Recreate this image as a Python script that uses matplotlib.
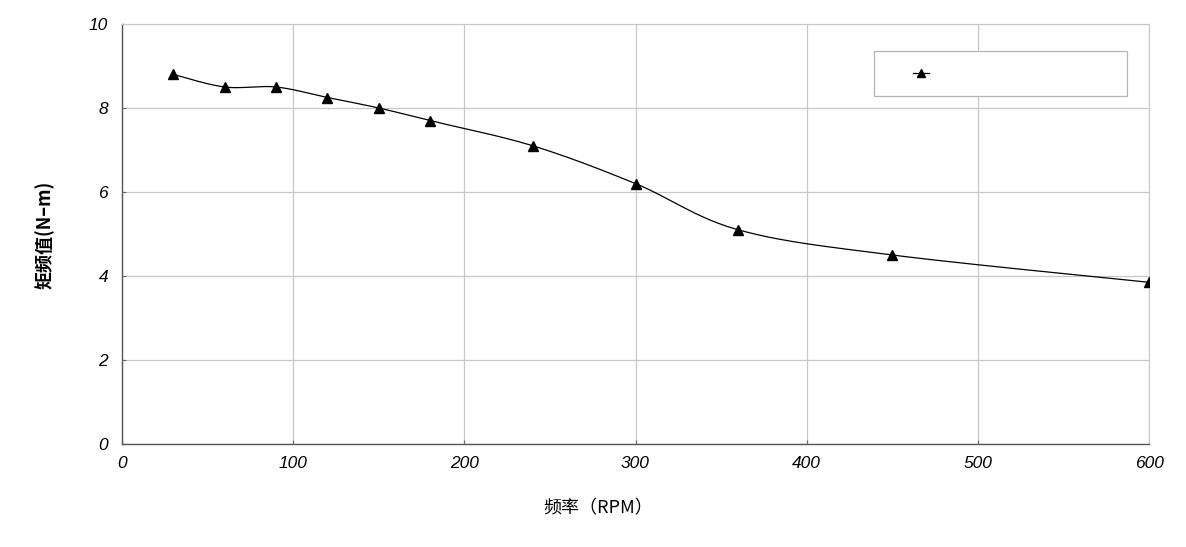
import numpy as np
import matplotlib
matplotlib.use("Agg")
import matplotlib.pyplot as plt
from matplotlib.patches import Rectangle
from matplotlib.lines import Line2D

# data
rpm = [30, 60, 90, 120, 150, 180, 240, 300, 360, 450, 600]
torque = [8.8, 8.5, 8.5, 8.25, 8.0, 7.7, 7.1, 6.2, 5.1, 4.5, 3.85]
x_ticks = [0, 100, 200, 300, 400, 500, 600]
y_ticks = [0, 2, 4, 6, 8, 10]
x_label = "频率（RPM）"
y_label = "矩频值(N–m)"


def smooth_curve(xs, ys, steps=30):
    # Excel-like smoothed line: cubic Bezier with Catmull-Rom control points
    xs = np.asarray(xs, float)
    ys = np.asarray(ys, float)
    n = len(xs)
    out_x, out_y = [], []
    t = np.linspace(0, 1, steps)
    for i in range(n - 1):
        p0 = np.array([xs[max(i - 1, 0)], ys[max(i - 1, 0)]])
        p1 = np.array([xs[i], ys[i]])
        p2 = np.array([xs[i + 1], ys[i + 1]])
        p3 = np.array([xs[min(i + 2, n - 1)], ys[min(i + 2, n - 1)]])
        c1 = p1 + (p2 - p0) / 6.0
        c2 = p2 - (p3 - p1) / 6.0
        pts = ((1 - t) ** 3)[:, None] * p1 + (3 * (1 - t) ** 2 * t)[:, None] * c1 \
            + (3 * (1 - t) * t ** 2)[:, None] * c2 + (t ** 3)[:, None] * p2
        out_x.extend(pts[:, 0])
        out_y.extend(pts[:, 1])
    return out_x, out_y


fig = plt.figure(figsize=(11.86, 5.47), dpi=100)
ax = fig.add_axes([122 / 1186, 1 - 444 / 547, 1027 / 1186, 420 / 547])

sx, sy = smooth_curve(rpm, torque)
ax.plot(sx, sy, color="black", lw=0.9, zorder=3)
ax.plot(rpm, torque, linestyle="none", marker="^", color="black", markersize=7, zorder=4)

ax.set_xlim(0, 600)
ax.set_ylim(0, 10)
ax.set_xticks(x_ticks)
ax.set_yticks(y_ticks)
ax.grid(True, color="#c8c8c8", lw=0.9)
ax.set_axisbelow(True)

for side in ["top", "right"]:
    ax.spines[side].set_color("#c8c8c8")
for side in ["left", "bottom"]:
    ax.spines[side].set_color("#555555")
    ax.spines[side].set_linewidth(1.0)

ax.tick_params(axis="both", direction="in", length=3, width=0.8, color="#666666",
               labelsize=12.5)
ax.tick_params(axis="y", pad=10)
ax.tick_params(axis="x", pad=9)
for lab in ax.get_xticklabels() + ax.get_yticklabels():
    lab.set_fontfamily("Liberation Sans")
    lab.set_fontstyle("italic")

# legend box (empty series name, as in the reference)
ax.add_patch(Rectangle((0.732, 0.829), 0.247, 0.107, transform=ax.transAxes,
                       facecolor="white", edgecolor="#b4b4b4", lw=0.9, zorder=5))
ax.add_line(Line2D([0.770, 0.786], [0.883, 0.883], transform=ax.transAxes,
                   color="black", lw=0.9, zorder=6))
ax.add_line(Line2D([0.778], [0.883], transform=ax.transAxes, marker="^",
                   color="black", markersize=6, linestyle="none", zorder=6))

fig.text(45 / 1186, 1 - 235 / 547, y_label, rotation=90, ha="center", va="center",
         fontsize=13, fontweight="bold", family=["Noto Sans CJK SC", "DejaVu Sans"])
fig.text(598 / 1186, 1 - 508 / 547, x_label, ha="center", va="center",
         fontsize=13, family=["Noto Sans CJK SC", "DejaVu Sans"])

fig.savefig("out.png", dpi=100, facecolor="white")
